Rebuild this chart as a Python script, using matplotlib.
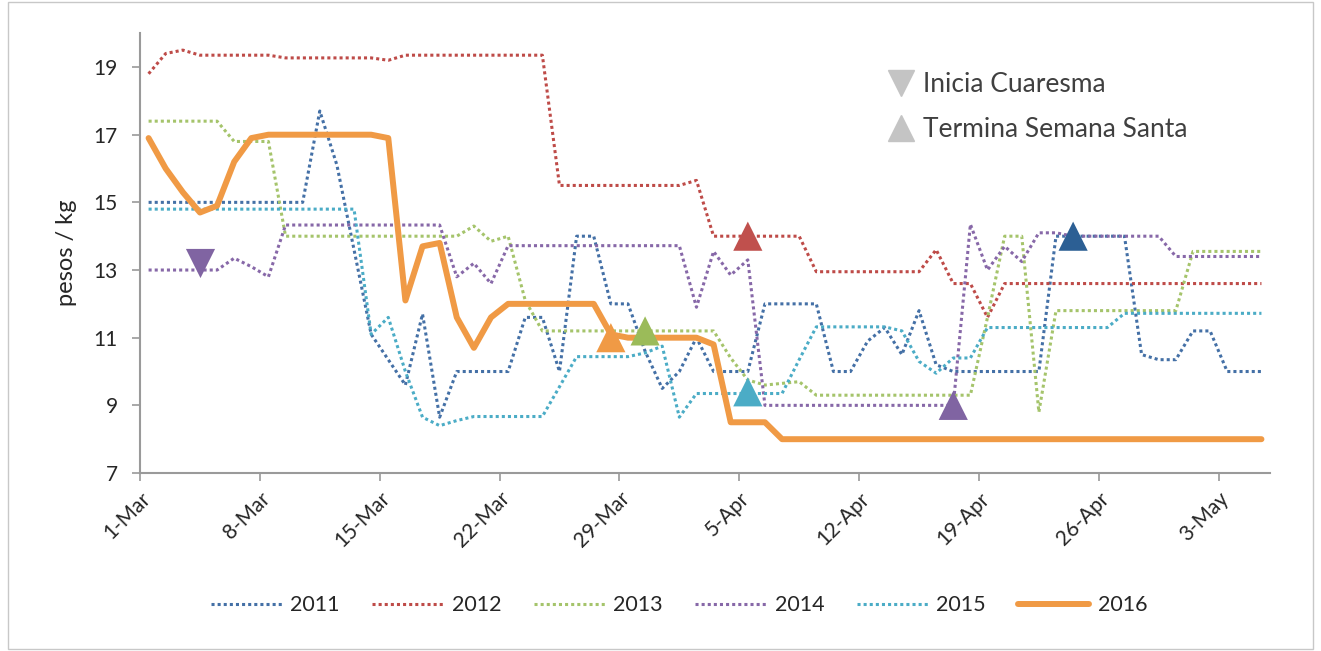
import numpy as np
import pandas as pd
import matplotlib
matplotlib.use("Agg")
import matplotlib.pyplot as plt
from matplotlib.lines import Line2D
from matplotlib.patches import Rectangle

plt.rcParams['font.family'] = ['Lato', 'DejaVu Sans']

# daily prices, 1-Mar .. 5-May
dates = pd.date_range("2016-03-01", "2016-05-05")

p2011 = [15.0] * 10 + [17.7, 16.1, 13.6, 11.1, 10.35, 9.6, 11.7, 8.65] + [10.0] * 4 + [11.6] * 2 + \
    [10.0, 14.0, 14.0, 12.0, 12.0, 10.6, 9.5, 10.0, 11.0] + [10.0] * 3 + [12.0] * 4 + [10.0] * 2 + \
    [10.9, 11.3, 10.5, 11.8, 10.2] + [10.0] * 6 + [14.0] * 5 + [10.5, 10.35, 10.35, 11.2, 11.2] + [10.0] * 3
p2012 = [18.8, 19.4, 19.5] + [19.35] * 5 + [19.27] * 6 + [19.2] + [19.35] * 9 + [15.5] * 8 + [15.65] + \
    [14.0] * 6 + [12.95] * 7 + [13.6, 12.6, 12.6, 11.6] + [12.6] * 16
p2013 = [17.4] * 5 + [16.8] * 3 + [14.0] * 11 + [14.3, 13.85, 14.0, 12.1] + [11.2] * 11 + \
    [10.4, 9.75, 9.6, 9.65, 9.7] + [9.3] * 10 + [11.6, 14.0, 14.0, 8.8] + [11.8] * 8 + [13.55] * 5
p2014 = [13.0] * 5 + [13.35, 13.1, 12.8] + [14.33] * 10 + [12.8, 13.2, 12.6] + [13.72] * 11 + \
    [11.9, 13.55, 12.85, 13.3] + [9.0] * 12 + [14.35, 13.0, 13.7, 13.25, 14.1, 14.1] + [14.0] * 6 + [13.4] * 6
p2015 = [14.8] * 13 + [11.1, 11.6, 10.0, 8.65, 8.4, 8.55] + [8.67] * 5 + [9.55] + [10.44] * 4 + \
    [10.55, 10.75, 8.65] + [9.35] * 6 + [10.35] + [11.32] * 5 + [11.2, 10.3, 9.95, 10.4, 10.4] + \
    [11.3] * 8 + [11.72] * 9
p2016 = [16.9, 16.0, 15.3, 14.7, 14.9, 16.2, 16.9] + [17.0] * 7 + [16.9, 12.1, 13.7, 13.8, 11.6, 10.7, 11.6] + \
    [12.0] * 6 + [11.1] + [11.0] * 5 + [10.8] + [8.5] * 3 + [8.0] * 29

years = ["2011", "2012", "2013", "2014", "2015", "2016"]
colors = ["#4470a6", "#be4b48", "#a5c46b", "#8768a8", "#4bacc6", "#f09a45"]
series = [p2011, p2012, p2013, p2014, p2015, p2016]

# marker events (day index, price)
cuaresma_day = [3]
cuaresma_val = [13.2]
cuaresma_col = ["#8064a2"]
santa_day = [27, 29, 35, 35, 47, 54]
santa_val = [11.0, 11.2, 14.0, 9.4, 9.0, 14.0]
santa_col = ["#f09a45", "#9bbb59", "#c0504d", "#4bacc6", "#8064a2", "#2c5f94"]

tick_labels = ["1-Mar", "8-Mar", "15-Mar", "22-Mar", "29-Mar", "5-Apr", "12-Apr", "19-Apr", "26-Apr", "3-May"]

fig = plt.figure(figsize=(13.21, 6.51), dpi=100)
ax = fig.add_axes([0.106, 0.2734, 0.8554, 0.6756])

x = np.arange(len(dates)) + 0.5
handles = []
for yr, col, vals in zip(years, colors, series):
    if yr == "2016":
        h, = ax.plot(x, vals, color=col, lw=4.3, solid_joinstyle='round', solid_capstyle='round', zorder=3)
    else:
        h, = ax.plot(x, vals, color=col, lw=2.2, linestyle=(0, (1, 1)), zorder=2)
    handles.append(h)

ax.scatter(np.array(cuaresma_day) + 0.5, cuaresma_val, marker='v', s=21 ** 2, c=cuaresma_col, zorder=4, linewidths=0)
ax.scatter(np.array(santa_day) + 0.5, santa_val, marker='^', s=21 ** 2, c=santa_col, zorder=4, linewidths=0)

ax.set_xlim(0, 66)
ax.set_ylim(7, 20)
ax.set_yticks([7, 9, 11, 13, 15, 17, 19])
ax.set_xticks(np.arange(0, 66, 7))
ax.set_xticklabels(tick_labels, rotation=45, ha='right', va='top', rotation_mode='anchor')
for s in ['top', 'right']:
    ax.spines[s].set_visible(False)
for s in ['left', 'bottom']:
    ax.spines[s].set_color('#9a9a9a')
    ax.spines[s].set_linewidth(1.5)
ax.tick_params(axis='both', colors='#9a9a9a', length=6, width=1.2, labelsize=15, labelcolor='#262626')
ax.tick_params(axis='x', pad=5)
ax.tick_params(axis='y', pad=10)
ax.set_ylabel("pesos / kg", fontsize=17, color='#262626', labelpad=12)

leg = fig.legend(handles, years, loc='center', bbox_to_anchor=(0.514, 0.07), ncol=6, frameon=False,
                 fontsize=15.5, handlelength=3.3, columnspacing=1.5, handletextpad=0.4)
for t in leg.get_texts():
    t.set_color('#262626')

mk = [Line2D([], [], marker='v', color='#c4c4c4', ls='none', markersize=19),
      Line2D([], [], marker='^', color='#c4c4c4', ls='none', markersize=19)]
leg2 = ax.legend(mk, ["Inicia Cuaresma", "Termina Semana Santa"], loc='upper left',
                 bbox_to_anchor=(0.6335, 0.965), frameon=False, fontsize=19,
                 handletextpad=0.05, labelspacing=0.75, handlelength=1.6)
for t in leg2.get_texts():
    t.set_color('#404040')

fig.patches.append(Rectangle((0.006, 0.003), 0.988, 0.994, transform=fig.transFigure,
                             fill=False, edgecolor='#c8c8c8', lw=1))

fig.savefig("out.png", dpi=100)
